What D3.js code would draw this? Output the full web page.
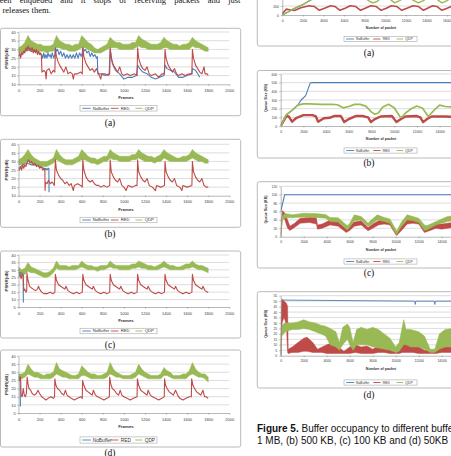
<!DOCTYPE html>
<html>
<head>
<meta charset="utf-8">
<script src="https://cdn.jsdelivr.net/npm/d3@7"></script>
<style>
  html, body { margin: 0; padding: 0; background: #fff; overflow: hidden; }
</style>
</head>
<body>
<svg id="page" width="451" height="456"></svg>
<script>
// ---- data ----

// PSNR charts (left column): frame grid used for the QDP envelope
const psnrFrames = [0,30,60,90,120,150,180,210,240,270,300,330,360,390,420,450,480,510,540,570,600,630,660,690,720,750,780,810,840,870,900,930,960,990,1020,1050,1080,1110,1140,1170,1200,1230,1260,1290,1320,1350,1380,1410,1440,1470,1500,1530,1560,1590,1620,1650,1680,1710,1740,1770,1800];
const psnrXTicks = [0,200,400,600,800,1000,1200,1400,1600,1800,2000];
const psnrYTicksAB = [10,15,20,25,30,35,40];
const psnrYTicksCD = [5,10,15,20,25,30,35,40];

// (a) 1 MB
const qdpLoA = [28,28,29,30,30,29,29,29,29,28,29,29,31,31,30,30,29,29,29,30,31,31,30,29,28,28,28,29,30,31,31,31,30,30,30,30,30,31,32,31,31,30,30,30,30,30,31,31,30,30,30,30,30,30,30,32,31,31,30,29,29];
const qdpHiA = [31,32,34,38,35,34,33,33,32,32,32,33,38,35,34,33,33,32,33,33,38,36,34,33,31,30,31,32,33,37,35,34,34,33,33,33,34,34,38,36,35,34,33,33,33,34,37,35,34,33,33,32,33,33,34,37,35,34,33,32,31];
const redA = [[0,26],[10,28],[20,25],[30,28],[40,27],[50,29],[60,28],[70,31],[80,29],[90,32],[100,30],[110,31],[120,29],[130,31],[140,28],[150,30],[160,28],[170,30],[180,27],[190,29],[200,27],[210,28],[218,26],[222,17],[240,18],[255,17],[262,13],[268,18],[290,19],[310,16],[330,18],[345,17],[350,30],[360,26],[375,23],[390,21],[410,19],[430,17],[450,20],[470,16],[490,17],[510,16],[520,13],[530,16],[560,16],[590,17],[605,16],[610,31],[620,26],[640,22],[660,20],[680,18],[700,19],[720,17],[740,19],[760,16],[780,13],[790,16],[820,16],[850,15],[865,16],[870,31],[880,25],[900,21],[920,19],[940,17],[960,20],[980,16],[1000,15],[1030,16],[1060,15],[1100,16],[1125,15],[1130,31],[1140,25],[1160,21],[1180,19],[1200,18],[1220,20],[1240,16],[1260,15],[1300,16],[1330,14],[1360,16],[1385,16],[1390,30],[1400,25],[1420,21],[1440,19],[1460,17],[1480,19],[1500,16],[1520,15],[1550,16],[1580,15],[1620,16],[1645,16],[1650,30],[1660,25],[1680,21],[1700,19],[1720,17],[1740,16],[1760,20],[1770,16],[1790,16],[1800,15]];
const blueA = [[0,26],[40,28],[80,30],[120,29],[160,29],[200,28],[220,27],[230,25],[240,28],[250,25],[260,27],[270,25],[280,28],[290,26],[300,27],[310,25],[320,28],[335,25],[345,27],[350,31],[360,29],[370,30],[385,27],[400,29],[415,26],[430,28],[445,25],[460,27],[475,25],[490,27],[505,25],[520,27],[535,25],[550,28],[565,25],[580,28],[595,26],[605,28],[610,31],[620,29],[635,30],[650,28],[665,29],[680,26],[695,28],[710,26],[725,27],[740,25],[748,26],[752,16],[780,16],[820,15],[860,16],[870,30],[890,22],[920,18],[960,16],[1000,13],[1040,14],[1080,14],[1120,15],[1130,21],[1150,19],[1180,17],[1220,16],[1260,14],[1300,13],[1340,14],[1380,15],[1390,21],[1410,19],[1440,18],[1480,17],[1520,14],[1560,14],[1600,15],[1645,16],[1650,19],[1680,18],[1700,16],[1720,14]];

// (b) 500 KB
const qdpLoB = [28,28,29,30,29,28,28,27,27,27,28,29,31,30,29,28,28,28,29,30,31,31,30,29,29,28,29,30,30,32,31,31,30,30,30,30,31,31,32,31,30,30,30,29,30,30,32,31,30,30,30,30,30,30,31,32,31,30,30,29,29];
const qdpHiB = [31,32,34,37,34,32,31,30,30,30,31,32,37,34,32,31,31,31,32,33,37,35,33,32,32,31,32,33,33,37,35,34,33,33,33,33,34,34,37,35,34,33,33,32,33,34,37,35,34,33,32,32,33,33,34,37,35,34,33,32,31];
const redB = [[0,26],[10,25],[20,27],[30,25],[40,28],[50,26],[60,28],[70,27],[80,29],[95,31],[110,29],[125,30],[140,28],[155,29],[170,27],[185,28],[200,26],[215,27],[230,25],[250,26],[252,13],[256,18],[270,17],[285,19],[300,17],[320,18],[340,16],[350,31],[360,25],[380,22],[400,20],[420,19],[440,17],[460,18],[480,16],[500,17],[520,13],[530,16],[560,17],[590,16],[605,15],[610,31],[620,25],[640,21],[660,19],[680,18],[700,19],[720,17],[740,16],[760,16],[780,15],[810,16],[840,15],[865,16],[870,31],[880,24],[900,21],[920,19],[940,18],[960,20],[980,16],[1000,15],[1020,13],[1040,16],[1080,15],[1110,16],[1125,16],[1130,31],[1140,24],[1160,21],[1180,19],[1200,18],[1220,20],[1240,16],[1270,15],[1300,13],[1310,16],[1350,15],[1385,16],[1390,30],[1400,24],[1420,21],[1440,19],[1460,18],[1480,20],[1500,16],[1530,15],[1550,13],[1560,16],[1600,15],[1645,16],[1650,30],[1660,24],[1680,21],[1700,19],[1720,18],[1740,20],[1760,16],[1780,15],[1800,15]];
const blueB = [[0,26],[40,28],[80,29],[120,28],[160,28],[200,27],[240,26],[250,25],[260,26],[270,25],[280,26],[288,26],[290,12]];

// (c) 100 KB
const qdpLoC = [27,26,27,29,28,28,27,26,25,25,26,28,31,30,30,30,30,30,30,31,32,31,30,30,30,29,30,30,31,32,31,31,30,30,30,30,31,31,32,31,31,30,30,30,30,31,32,31,30,30,30,30,30,31,31,32,31,30,30,29,28];
const qdpHiC = [32,30,31,35,32,31,30,29,28,28,29,31,36,33,33,33,32,33,33,33,36,34,33,33,32,32,33,33,33,36,34,33,33,33,33,33,34,34,36,35,34,33,33,32,33,34,36,34,33,33,32,32,33,34,34,36,34,33,33,32,31];
const redC = [[0,25],[15,27],[25,24],[35,27],[45,26],[50,16],[60,17],[70,15],[78,16],[80,28],[90,23],[105,19],[120,18],[140,17],[160,16],[180,17],[190,19],[200,17],[220,15],[240,14],[270,14],[300,15],[330,14],[345,15],[350,27],[360,23],[380,20],[400,19],[420,18],[440,17],[450,19],[470,16],[490,15],[520,14],[550,15],[580,14],[605,15],[610,27],[620,23],[640,20],[660,19],[680,18],[700,17],[710,19],[730,16],[750,15],[780,14],[810,15],[840,14],[865,15],[870,27],[880,23],[900,20],[920,19],[940,18],[960,17],[970,19],[990,16],[1010,15],[1040,14],[1070,15],[1100,14],[1125,15],[1130,27],[1140,23],[1160,20],[1180,19],[1200,18],[1220,17],[1230,19],[1250,16],[1270,15],[1300,14],[1330,15],[1360,14],[1385,15],[1390,27],[1400,23],[1420,20],[1440,19],[1460,18],[1480,17],[1490,19],[1510,16],[1530,15],[1560,14],[1590,15],[1620,14],[1645,15],[1650,27],[1660,23],[1680,20],[1700,19],[1720,18],[1740,17],[1750,19],[1770,16],[1790,15],[1800,15]];
const blueC = [[0,28],[30,28],[44,27],[46,8]];

// (d) 50 KB
const qdpLoD = [26,26,27,29,28,27,27,26,26,26,26,27,29,28,27,27,26,26,26,26,28,28,27,26,26,26,26,26,27,29,28,27,27,26,26,26,26,27,29,28,27,26,26,26,26,26,28,28,27,26,26,26,26,26,28,29,28,27,27,26,24];
const qdpHiD = [29,29,30,35,32,30,30,29,28,29,29,30,36,32,31,30,29,28,28,29,34,32,30,29,29,28,28,29,30,36,32,30,29,28,28,28,29,30,35,32,30,29,28,28,28,29,33,31,30,28,28,28,29,29,31,36,32,30,29,29,27];
const redD = [[0,26],[10,25],[20,27],[25,16],[35,15],[45,20],[55,16],[65,15],[75,17],[82,27],[90,23],[100,20],[115,19],[130,17],[150,16],[170,17],[185,19],[200,17],[220,15],[240,14],[260,13],[280,14],[310,15],[330,14],[342,15],[345,26],[355,22],[370,20],[390,19],[410,17],[430,16],[445,19],[460,16],[480,15],[500,14],[530,13],[560,14],[590,15],[605,14],[608,25],[620,22],[640,19],[660,18],[680,17],[700,16],[710,19],[730,16],[750,15],[780,14],[810,13],[840,14],[862,15],[865,27],[875,23],[890,20],[910,19],[930,17],[950,16],[965,19],[980,16],[1000,15],[1030,14],[1060,13],[1090,14],[1125,15],[1128,26],[1140,22],[1160,19],[1180,18],[1200,17],[1220,16],[1230,19],[1250,16],[1270,15],[1300,14],[1330,13],[1360,14],[1383,15],[1386,26],[1395,22],[1410,20],[1430,18],[1450,17],[1470,16],[1490,19],[1510,16],[1530,14],[1560,13],[1590,14],[1620,15],[1640,15],[1643,26],[1655,22],[1670,20],[1690,18],[1710,17],[1730,16],[1750,19],[1765,15],[1780,15],[1800,14]];
const blueD = [[0,27],[15,27],[18,9]];

// Queue size charts (right column)
const packetTicks = [0,2000,4000,6000,8000,10000,12000,14000,16000,18000];

// (a) 1 MB
const queueYTicksA = [0,200,400,600,800,1000,1200];
const qBlueA = [[0,0],[500,60],[1000,125],[1500,180],[2000,230],[2500,300],[3000,370],[6500,1000],[18000,1000]];
const qRedA = [[0,30],[400,130],[800,110],[1200,100],[1800,160],[2600,205],[3100,190],[3600,105],[4100,150],[4700,205],[5100,190],[5600,105],[6100,150],[6600,205],[7100,190],[7600,105],[8100,155],[8600,205],[9100,190],[9600,105],[10100,150],[10600,205],[11100,190],[11600,105],[12100,150],[12700,205],[13200,190],[13700,105],[14100,150],[14600,205],[15000,190],[15500,105],[16000,150],[16500,200]];
const qGreenA = [[0,0],[500,60],[1000,125],[1500,180],[2000,230],[2500,300],[3000,360],[4000,420],[5000,450],[6000,460],[7000,450],[8000,380],[8500,300],[8800,270],[9200,300],[9800,420],[10300,380],[10900,270],[11400,320],[12000,420],[12700,330],[13200,270],[13700,320],[14300,420],[15000,350],[15500,270],[16000,320],[16500,400]];

// (b) 500 KB
const queueYTicksB = [0,100,200,300,400,500,600];
const qBlueB = [[0,0],[500,130],[1000,180],[1500,240],[1800,300],[2200,350],[2600,495],[2700,500],[18000,500]];
const qRedB = [[0,0],[500,115],[700,110],[1000,50],[1400,95],[2000,125],[2800,125],[3100,110],[3300,50],[3800,90],[4300,95],[4700,115],[5300,115],[5600,45],[6000,80],[6600,115],[7200,115],[7700,100],[7950,45],[8300,80],[8800,110],[9800,115],[10200,45],[10600,80],[11000,110],[12000,115],[12300,100],[12550,45],[12900,80],[13300,110],[14500,110],[15500,105],[16000,105]];
const qGreenB = [[0,0],[500,130],[1000,180],[1500,240],[2000,255],[2500,255],[3000,252],[3500,250],[4000,250],[4500,250],[5000,245],[5500,210],[6000,225],[6500,250],[7000,250],[7500,230],[8000,160],[8300,135],[8600,150],[9000,220],[9500,250],[10000,210],[10500,110],[10700,105],[11000,150],[11500,200],[12000,230],[12500,205],[13000,110],[13500,180],[14000,240],[14500,225],[15000,220],[15500,210],[16000,200]];

// (c) 100 KB  -- [packet, low, high]
const queueYTicksC = [0,20,40,60,80,100,120];
const qBlueC = [[0,60],[350,100],[18000,100]];
const qRedC = [[0,0,10],[150,50,62],[300,45,58],[600,20,40],[800,15,25],[1200,22,32],[1700,32,44],[2500,34,46],[3100,30,45],[3200,18,28],[3600,20,30],[4300,28,40],[5000,25,35],[5700,10,18],[6000,15,25],[6400,25,35],[7000,28,38],[7600,14,22],[8000,20,30],[8500,28,38],[9000,30,40],[9500,28,36],[10000,5,12],[10100,3,10],[10600,18,28],[11000,30,40],[11500,32,42],[12000,30,40],[12500,10,20],[13000,15,25],[13500,20,30],[14000,18,30],[14500,20,32],[15000,22,34],[16000,20,30]];
const qGreenC = [[0,0,5],[150,40,50],[400,45,55],[1000,45,52],[2000,47,56],[3000,46,55],[3900,44,53],[4300,36,46],[5000,35,45],[5800,16,26],[6000,22,32],[6400,38,52],[7000,40,48],[7600,24,32],[7800,28,38],[8400,40,52],[9000,36,46],[9500,32,42],[10000,8,18],[10100,5,14],[10500,25,35],[11000,40,52],[11500,38,48],[12000,34,44],[12500,15,28],[12700,16,26],[13500,28,36],[14000,32,42],[14500,36,48],[15000,38,50],[16000,36,48]];

// (d) 50 KB  -- [packet, low, high]
const queueYTicksD = [0,5,10,15,20,25,30,35,40,45,50,55];
const qBlueD = [[0,0],[150,51],[11650,50],[11700,47],[11750,50],[13350,50],[13400,47],[13450,50],[18000,50]];
const qRedD = [[0,0,20],[100,30,52],[300,35,50],[500,28,48],[600,3,45],[650,2,6],[1000,3,8],[1500,3,12],[2000,4,16],[2300,4,17],[2800,3,12],[3200,3,6],[3600,3,8],[4000,2,10],[4500,2,12],[5000,2,8],[5500,2,4],[6000,2,8],[6500,3,10],[7000,2,8],[7500,2,9],[8000,2,6],[8500,3,9],[9000,3,10],[9500,2,8],[10000,2,3],[10300,2,5],[10600,3,10],[11000,3,12],[11500,3,9],[12000,2,8],[12500,2,5],[13000,2,4],[13500,2,6],[14000,3,8],[14500,3,8],[15000,3,8],[16000,3,8]];
const qGreenD = [[0,0,5],[100,18,28],[400,22,30],[1000,24,30],[1500,24,31],[2000,25,33],[2500,24,31],[3000,22,30],[3500,20,28],[3900,18,27],[4300,10,25],[4800,8,22],[5100,5,12],[5400,10,26],[5800,15,29],[6000,10,26],[6300,5,12],[6600,10,24],[7000,10,26],[7500,10,24],[8000,8,26],[8500,7,24],[9000,6,20],[9500,5,16],[10000,3,8],[10300,4,12],[10700,10,33],[10900,10,24],[11300,8,24],[12000,8,22],[12500,6,18],[13000,3,6],[13400,3,6],[13800,6,20],[14300,8,24],[15000,8,25],[16000,8,24]];

const seriesNames = ["NoBuffer", "RED", "QDP"];

// ---- drawing ----
const BLUE = "#4a7ebb", RED = "#be4b48", GREEN = "#98b954";
const SANS = "'Liberation Sans', Arial, sans-serif";
const SERIF = "'Liberation Serif', 'Times New Roman', serif";
const W = 451, H = 456;
const page = d3.select("#page");

function band(frames, lo, hi) {
    return frames.map((f, i) => [f, lo[i], hi[i]]);
}

function drawChart(c) {
    const g = page.append("g");

    g.append("rect")
        .attr("x", c.box[0]).attr("y", c.box[1])
        .attr("width", c.box[2]).attr("height", c.box[3])
        .attr("rx", 2)
        .attr("fill", "#fff")
        .attr("stroke", "#a8a8a8")
        .attr("stroke-width", 0.8);

    const x = d3.scaleLinear().domain(c.xDomain).range(c.xRange);
    const y = d3.scaleLinear().domain(c.yDomain).range(c.yRange);

    // horizontal gridlines
    g.append("g").selectAll("line")
        .data(c.yTicks.slice(1))
        .join("line")
        .attr("x1", c.xRange[0]).attr("x2", c.xRange[1])
        .attr("y1", d => y(d)).attr("y2", d => y(d))
        .attr("stroke", "#c6c6c6")
        .attr("stroke-width", 0.6);

    const clipId = "clip-" + c.id;
    g.append("clipPath").attr("id", clipId)
        .append("rect")
        .attr("x", c.xRange[0]).attr("y", c.yRange[1] - 2)
        .attr("width", c.xRange[1] - c.xRange[0])
        .attr("height", c.yRange[0] - c.yRange[1] + 2);
    const plot = g.append("g").attr("clip-path", `url(#${clipId})`);

    c.layers.forEach(l => {
        if (l.band) {
            plot.append("path")
                .datum(l.band)
                .attr("fill", l.color)
                .attr("stroke", l.color)
                .attr("stroke-width", 0.5)
                .attr("d", d3.area().x(d => x(d[0])).y0(d => y(d[1])).y1(d => y(d[2])));
        } else {
            plot.append("path")
                .datum(l.line)
                .attr("fill", "none")
                .attr("stroke", l.color)
                .attr("stroke-width", l.width)
                .attr("stroke-linejoin", "round")
                .attr("d", d3.line().x(d => x(d[0])).y(d => y(d[1])));
        }
    });

    // axes (plain integer labels, no thousands separator)
    const ya = g.append("g")
        .attr("transform", `translate(${c.xRange[0]},0)`)
        .call(d3.axisLeft(y).tickValues(c.yTicks).tickFormat(d3.format("d"))
            .tickSize(1.5).tickSizeOuter(0).tickPadding(c.yPad));
    const xa = g.append("g")
        .attr("transform", `translate(0,${c.yRange[0]})`)
        .call(d3.axisBottom(x).tickValues(c.xTicks).tickFormat(d3.format("d"))
            .tickSize(1.5).tickSizeOuter(0).tickPadding(c.xPad));
    [ya, xa].forEach(a => {
        a.select(".domain").attr("stroke", "#8a8a8a").attr("stroke-width", 0.6);
        a.selectAll(".tick line").attr("stroke", "#8a8a8a").attr("stroke-width", 0.6);
        a.selectAll("text")
            .attr("font-size", c.tickFont)
            .attr("font-family", SANS)
            .attr("fill", "#3c3c3c");
    });
    // labels that fall wholly outside the page are not drawn
    ya.selectAll(".tick").filter(d => y(d) < -1).remove();
    xa.selectAll(".tick").filter(d => x(d) > W + 4).remove();

    // axis titles
    g.append("text")
        .attr("transform", `translate(${c.yTitle[0]},${c.yTitle[1]}) rotate(-90)`)
        .attr("text-anchor", "middle")
        .attr("dy", "0.35em")
        .attr("font-family", SANS)
        .attr("font-weight", "bold")
        .attr("font-size", c.titleFont)
        .attr("fill", "#333")
        .text(c.yLabel);
    g.append("text")
        .attr("x", c.xTitle[0]).attr("y", c.xTitle[1])
        .attr("text-anchor", "middle")
        .attr("dy", "0.35em")
        .attr("font-family", SANS)
        .attr("font-weight", "bold")
        .attr("font-size", c.titleFont)
        .attr("fill", "#333")
        .text(c.xLabel);

    // legend
    const L = c.legend;
    g.append("rect")
        .attr("x", L.x).attr("y", L.y - L.h / 2)
        .attr("width", L.w).attr("height", L.h)
        .attr("fill", "#fff")
        .attr("stroke", "#a8a8a8")
        .attr("stroke-width", 0.6);
    const slots = [[0.03, 0.14, 0.165], [0.40, 0.50, 0.53], [0.72, 0.81, 0.84]];
    const colors = [BLUE, RED, GREEN];
    seriesNames.forEach((name, i) => {
        g.append("line")
            .attr("x1", L.x + slots[i][0] * L.w).attr("x2", L.x + slots[i][1] * L.w)
            .attr("y1", L.y).attr("y2", L.y)
            .attr("stroke", colors[i])
            .attr("stroke-width", 0.9);
        g.append("text")
            .attr("x", L.x + slots[i][2] * L.w).attr("y", L.y)
            .attr("dy", "0.35em")
            .attr("font-family", SANS)
            .attr("font-size", L.font)
            .attr("fill", "#333")
            .text(name);
    });

    // sub caption
    page.append("text")
        .attr("x", c.sub[0]).attr("y", c.sub[1])
        .attr("text-anchor", "middle")
        .attr("dy", "0.35em")
        .attr("font-family", SERIF)
        .attr("font-size", 9.5)
        .attr("fill", "#111")
        .text(c.subLabel);
}

// left column: PSNR per frame
const leftCharts = [
    { id: "pa", box: [0.5, 28.3, 240.2, 87.4], yDomain: [10, 40], yRange: [84.3, 32], yTicks: psnrYTicksAB,
      qdp: band(psnrFrames, qdpLoA, qdpHiA), red: redA, blue: blueA, legendY: 108.3, legendH: 5.5, legendFont: 4.2, sub: "(a)", subY: 123 },
    { id: "pb", box: [0.5, 139.3, 240.2, 88], yDomain: [10, 40], yRange: [195.7, 144.3], yTicks: psnrYTicksAB,
      qdp: band(psnrFrames, qdpLoB, qdpHiB), red: redB, blue: blueB, legendY: 220, legendH: 5.5, legendFont: 4.2, sub: "(b)", subY: 234 },
    { id: "pc", box: [0.5, 251, 240.2, 87], yDomain: [5, 40], yRange: [307, 255], yTicks: psnrYTicksCD,
      qdp: band(psnrFrames, qdpLoC, qdpHiC), red: redC, blue: blueC, legendY: 331, legendH: 5.5, legendFont: 4.2, sub: "(c)", subY: 345 },
    { id: "pd", box: [0.5, 350, 240.2, 97], yDomain: [5, 40], yRange: [413, 356], yTicks: psnrYTicksCD,
      qdp: band(psnrFrames, qdpLoD, qdpHiD), red: redD, blue: blueD, legendY: 440, legendH: 6.2, legendFont: 4.8, sub: "(d)", subY: 452.5 }
];

leftCharts.forEach(p => {
    drawChart({
        id: p.id, box: p.box,
        xDomain: [0, 2000], xRange: [18.5, 229.3], xTicks: psnrXTicks,
        yDomain: p.yDomain, yRange: p.yRange, yTicks: p.yTicks,
        xPad: 3.4, yPad: 1.2, tickFont: 4,
        layers: [
            { band: p.qdp, color: GREEN },
            { line: p.blue, color: BLUE, width: 1.1 },
            { line: p.red, color: RED, width: 1.1 }
        ],
        yLabel: "PSNR(dB)", yTitle: [6, (p.yRange[0] + p.yRange[1]) / 2],
        xLabel: "Frames", xTitle: [126, p.yRange[0] + 13.6], titleFont: 4.4,
        legend: { x: 80, y: p.legendY, w: 77, h: p.legendH, font: p.legendFont },
        subLabel: p.sub, sub: [110, p.subY]
    });
});

// right column: queue size per packet
const rightCharts = [
    { id: "qa", box: [257.3, -45, 210, 91], yDomain: [0, 1200], yRange: [15, -39], yTicks: queueYTicksA, xRange: [282.3, 282.3 + 9 * 20.6], xPad: 3.2,
      layers: [{ line: qBlueA, color: BLUE, width: 1.2 }, { line: qRedA, color: RED, width: 1.6 }, { line: qGreenA, color: GREEN, width: 1.4 }],
      legendY: 39, sub: "(a)", subY: 53 },
    { id: "qb", box: [257.3, 70.5, 210, 87.5], yDomain: [0, 600], yRange: [126, 74], yTicks: queueYTicksB, xRange: [280.7, 280.7 + 9 * 22.7], xPad: 3.2,
      layers: [{ line: qBlueB, color: BLUE, width: 1.1 }, { line: qRedB, color: RED, width: 2.4 }, { line: qGreenB, color: GREEN, width: 1.7 }],
      legendY: 150.5, sub: "(b)", subY: 163 },
    { id: "qc", box: [257.3, 181.7, 210, 86.3], yDomain: [0, 120], yRange: [236.7, 186.3], yTicks: queueYTicksC, xRange: [280.7, 280.7 + 9 * 23], xPad: 2.6,
      layers: [{ line: qBlueC, color: BLUE, width: 1.1 }, { band: qRedC, color: RED }, { band: qGreenC, color: GREEN }],
      legendY: 261.5, sub: "(c)", subY: 273 },
    { id: "qd", box: [257.3, 291.7, 210, 96.3], yDomain: [0, 55], yRange: [355.7, 295.7], yTicks: queueYTicksD, xRange: [280.7, 280.7 + 9 * 23], xPad: 2.6,
      layers: [{ line: qBlueD, color: BLUE, width: 0.9 }, { band: qRedD, color: RED }, { band: qGreenD, color: GREEN }],
      legendY: 382.5, sub: "(d)", subY: 395 }
];

rightCharts.forEach(q => {
    drawChart({
        id: q.id, box: q.box,
        xDomain: [0, 18000], xRange: q.xRange, xTicks: packetTicks,
        yDomain: q.yDomain, yRange: q.yRange, yTicks: q.yTicks,
        xPad: q.xPad, yPad: 2, tickFont: 3.4,
        layers: q.layers,
        yLabel: "Queue Size (KB)", yTitle: [265.5, (q.yRange[0] + q.yRange[1]) / 2 - 2],
        xLabel: "Number of packet", xTitle: [381, q.yRange[0] + 13.2], titleFont: 3.6,
        legend: { x: 344, y: q.legendY, w: 73, h: 5.2, font: 3.4 },
        subLabel: q.sub, sub: [369, q.subY]
    });
});

// running text above the charts (justified first line)
const line1 = page.append("text")
    .attr("x", -4.5).attr("y", 3.3)
    .attr("font-family", SERIF).attr("font-size", 8.5).attr("fill", "#111")
    .text("been enqueued and it stops of receiving packets and just");
const natural = line1.node().getComputedTextLength();
const spaces = line1.text().split(" ").length - 1;
line1.attr("word-spacing", (245 - natural) / spaces);
page.append("text")
    .attr("x", 2.5).attr("y", 12.7)
    .attr("font-family", SERIF).attr("font-size", 8.5).attr("fill", "#111")
    .text("releases them.");

// figure caption
const cap = page.append("text")
    .attr("x", 257).attr("y", 432.3)
    .attr("font-family", SANS).attr("font-size", 10).attr("fill", "#111");
cap.append("tspan").attr("font-weight", "bold").text("Figure 5.");
cap.append("tspan").text(" Buffer occupancy to different buffer sizes: (a)");
page.append("text")
    .attr("x", 257).attr("y", 443.5)
    .attr("font-family", SANS).attr("font-size", 10).attr("fill", "#111")
    .text("1 MB, (b) 500 KB, (c) 100 KB and (d) 50KB");
</script>
</body>
</html>
